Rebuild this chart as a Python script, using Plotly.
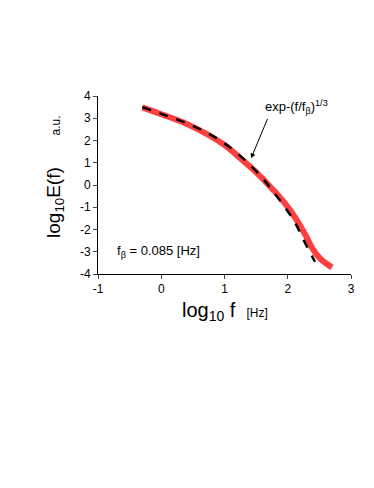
import plotly.graph_objects as go

# measured curve (red)
data_x = [-0.3, 0.0, 0.46, 1.0, 1.25, 1.49, 1.77, 1.99, 2.14, 2.28, 2.38, 2.51, 2.62, 2.7]
data_y = [3.49, 3.18, 2.67, 1.80, 1.20, 0.60, -0.22, -0.95, -1.57, -2.25, -2.80, -3.30, -3.55, -3.70]

# stretched exponential fit (dashed)
fit_x = [-0.3, 0.0, 0.5, 1.0, 1.5, 1.93, 2.12, 2.25, 2.43]
fit_y = [3.5, 3.2, 2.66, 1.87, 0.62, -0.9, -1.72, -2.47, -3.45]

x_ticks = [-1, 0, 1, 2, 3]
y_ticks = [-4, -3, -2, -1, 0, 1, 2, 3, 4]

font = "Liberation Sans, Arial, sans-serif"

fig = go.Figure()
fig.add_trace(go.Scatter(x=data_x, y=data_y, mode="lines",
                         line=dict(color="#ff4040", width=6, shape="spline", smoothing=1.2),
                         showlegend=False))
fig.add_trace(go.Scatter(x=fit_x, y=fit_y, mode="lines",
                         line=dict(color="black", width=2.5, dash="dash", shape="spline", smoothing=1.0),
                         showlegend=False))

fig.add_annotation(x=1.42, y=1.2, ax=1.69, ay=3.04, xref="x", yref="y",
                   axref="x", ayref="y", showarrow=True, arrowhead=2,
                   arrowsize=1, arrowwidth=1, arrowcolor="black", text="")
fig.add_annotation(x=2.14, y=3.52, xref="x", yref="y", showarrow=False,
                   xanchor="center", yanchor="middle",
                   text="exp-(f/f<sub>β</sub>)<sup>1/3</sup>",
                   font=dict(size=13, color="black", family=font))
fig.add_annotation(x=-0.73, y=-3.0, xref="x", yref="y", showarrow=False,
                   xanchor="left", yanchor="middle",
                   text="f<sub>β</sub> = 0.085 [Hz]",
                   font=dict(size=13, color="black", family=font))

# axis titles
fig.add_annotation(x=-0.17, y=0.545, xref="paper", yref="paper", showarrow=False,
                   xanchor="center", yanchor="middle", textangle=-90,
                   text="log<sub>10</sub>E(f)&nbsp;&nbsp;&nbsp;&nbsp;&nbsp;&nbsp;<span style='font-size:12px'>a.u.</span>",
                   font=dict(size=19, color="black", family=font))
fig.add_annotation(x=0.5, y=-0.208, xref="paper", yref="paper", showarrow=False,
                   xanchor="center", yanchor="middle",
                   text="log<sub>10</sub> f&nbsp;&nbsp;<span style='font-size:12px'>[Hz]</span>",
                   font=dict(size=20, color="black", family=font))

fig.update_xaxes(range=[-1, 3], tickvals=x_ticks, ticktext=[str(v) for v in x_ticks],
                 ticks="outside", ticklen=4,
                 showline=True, linecolor="black", linewidth=1, showgrid=False,
                 zeroline=False, tickfont=dict(size=12, family=font, color="black"))
fig.update_yaxes(range=[-4, 4], tickvals=y_ticks, ticktext=[str(v) for v in y_ticks],
                 ticks="outside", ticklen=4,
                 showline=True, linecolor="black", linewidth=1, showgrid=False,
                 zeroline=False, tickfont=dict(size=12, family=font, color="black"))

# page body has an 8px margin, so the figure is 8px smaller on each side
fig.update_layout(width=366, height=480, plot_bgcolor="white", paper_bgcolor="white",
                  margin=dict(l=90, r=23, t=88, b=214))
fig.write_html("out.html")
